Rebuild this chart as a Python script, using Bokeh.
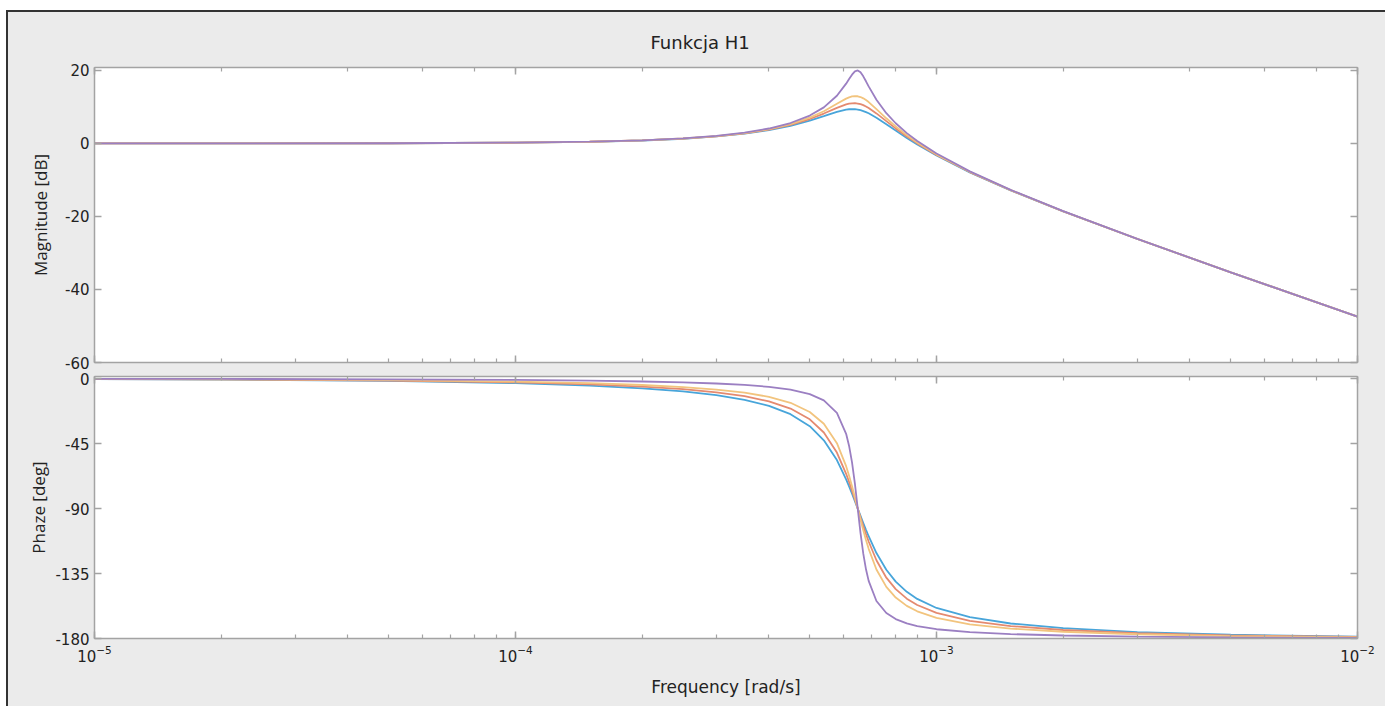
from bokeh.plotting import figure
from bokeh.models import LogAxis, LinearAxis, FixedTicker, LogTicker, CustomJSTickFormatter
from bokeh.layouts import column
from bokeh.embed import file_html
from bokeh.resources import INLINE

# ---- data ----
freq = [1e-5, 2e-5, 5e-5, 1e-4, 1.5e-4, 2e-4, 2.5e-4, 3e-4, 3.5e-4, 4e-4, 4.5e-4,
        5e-4, 5.4e-4, 5.8e-4, 6.1e-4, 6.2e-4, 6.3e-4, 6.4e-4, 6.5e-4, 6.6e-4, 6.7e-4,
        6.8e-4, 6.9e-4, 7.2e-4, 7.6e-4, 8e-4, 8.5e-4, 9e-4, 1e-3, 1.2e-3, 1.5e-3,
        2e-3, 3e-3, 5e-3, 1e-2]

mag_blue = [0.0, 0.01, 0.05, 0.2, 0.45, 0.81, 1.29, 1.91, 2.69, 3.66, 4.84, 6.26, 7.50, 8.67,
            9.27, 9.36, 9.40, 9.37, 9.27, 9.10, 8.87, 8.59, 8.26, 7.06, 5.28, 3.52, 1.51, -0.29,
            -3.32, -7.93, -12.87, -18.62, -26.18, -35.30, -47.45]
mag_orange = [0.0, 0.01, 0.05, 0.2, 0.46, 0.82, 1.32, 1.96, 2.78, 3.80, 5.09, 6.69, 8.19, 9.76,
              10.69, 10.89, 11.00, 11.02, 10.93, 10.75, 10.48, 10.12, 9.71, 8.23, 6.11, 4.12,
              1.92, 0.02, -3.14, -7.84, -12.82, -18.60, -26.17, -35.30, -47.45]
mag_yellow = [0.0, 0.01, 0.05, 0.2, 0.46, 0.84, 1.35, 2.01, 2.85, 3.92, 5.29, 7.06, 8.82, 10.85,
              12.28, 12.63, 12.87, 12.97, 12.92, 12.71, 12.35, 11.88, 11.33, 9.42, 6.89, 4.66,
              2.28, 0.27, -2.99, -7.76, -12.78, -18.58, -26.16, -35.30, -47.45]
mag_purple = [0.0, 0.01, 0.05, 0.21, 0.47, 0.86, 1.38, 2.07, 2.95, 4.09, 5.59, 7.63, 9.88, 13.06,
              16.38, 17.64, 18.84, 19.74, 20.00, 19.48, 18.38, 17.02, 15.63, 11.95, 8.28, 5.53,
              2.83, 0.65, -2.77, -7.66, -12.73, -18.56, -26.15, -35.30, -47.45]

ph_blue = [-0.30, -0.61, -1.53, -3.10, -4.79, -6.67, -8.83, -11.41, -14.62, -18.82, -24.58,
           -32.95, -42.69, -56.42, -69.72, -74.63, -79.70, -84.85, -90.0, -95.07, -100.0,
           -104.70, -109.16, -120.78, -132.39, -140.57, -147.64, -152.56, -158.83, -165.23,
           -169.60, -172.88, -175.53, -177.40, -178.71]
ph_orange = [-0.25, -0.50, -1.26, -2.56, -3.96, -5.51, -7.31, -9.46, -12.15, -15.71, -20.69,
             -28.15, -37.29, -51.19, -65.89, -71.59, -77.59, -83.77, -90.0, -96.14, -102.05,
             -107.63, -112.82, -125.81, -137.87, -145.82, -152.39, -156.79, -162.27, -167.72,
             -171.38, -174.11, -176.31, -177.85, -178.94]
ph_yellow = [-0.20, -0.40, -1.00, -2.04, -3.15, -4.39, -5.83, -7.55, -9.73, -12.62, -16.72,
             -23.07, -31.22, -44.70, -60.64, -67.30, -74.54, -82.19, -90.0, -97.70, -105.02,
             -111.77, -117.87, -132.20, -144.25, -151.62, -157.40, -161.16, -165.73, -170.17,
             -173.13, -175.31, -177.06, -178.29, -179.16]
ph_purple = [-0.09, -0.18, -0.44, -0.90, -1.40, -1.95, -2.59, -3.36, -4.34, -5.66, -7.57,
             -10.67, -15.01, -23.65, -38.19, -46.61, -57.99, -72.77, -90.0, -106.98, -121.23,
             -132.07, -140.08, -153.99, -162.33, -166.55, -169.57, -171.42, -173.58, -175.62,
             -176.95, -177.92, -178.70, -179.24, -179.63]

mag_ticks = [-60, -40, -20, 0, 20]
phase_ticks = [-180, -135, -90, -45, 0]
title_text = "Funkcja H1"
mag_label = "Magnitude [dB]"
phase_label = "Phaze [deg]"
freq_label = "Frequency [rad/s]"

# ---- styles ----
FONT_H = "DejaVu Sans"
FONT_V = "Liberation Sans Narrow, Open Sans"
BG = "#ebebeb"
AX = "#a3a3a3"
TXT = "#222222"
colors = ["#48a5da", "#e48a70", "#f2c47e", "#9b7fc2"]
W = 1377


def style_axis(ax, hide_labels=False):
    ax.axis_line_color = AX
    ax.axis_line_width = 1.5
    ax.major_tick_line_color = AX
    ax.minor_tick_line_color = AX
    ax.major_tick_line_width = 1.5
    ax.minor_tick_line_width = 1.2
    ax.major_tick_in = 7
    ax.major_tick_out = 0
    ax.minor_tick_in = 4
    ax.minor_tick_out = 0
    ax.major_label_text_font = FONT_H
    ax.major_label_text_font_size = "15px"
    ax.major_label_text_color = TXT
    ax.axis_label_text_font_style = "normal"
    ax.axis_label_text_color = TXT
    if hide_labels:
        ax.major_label_text_font_size = "1px"
        ax.major_label_text_alpha = 0
        ax.major_label_standoff = 0


def make_fig(height, yr, top_b, bot_b, title=None, **extra):
    kw = dict(width=W, height=height, x_axis_type="log", x_range=(1e-5, 1e-2), y_range=yr,
              output_backend="svg", toolbar_location=None,
              min_border_left=86, min_border_right=28, min_border_top=top_b,
              min_border_bottom=bot_b, background_fill_color="white",
              border_fill_color=BG, outline_line_color=AX)
    kw.update(extra)
    if title:
        kw["title"] = title
    p = figure(**kw)
    p.grid.visible = False
    return p


plain = CustomJSTickFormatter(code="return tick.toString();")

# ---- magnitude ----
p1 = make_fig(369, (-60, 20.8), 55, 19, title_text)
p1.title.align = "left"
p1.title.offset = 556
p1.title.text_font = FONT_H
p1.title.text_font_size = "18px"
p1.title.text_font_style = "normal"
p1.title.text_color = TXT
p1.title.standoff = 30
p1.yaxis.ticker = FixedTicker(ticks=mag_ticks)
p1.yaxis.formatter = plain
p1.yaxis.axis_label = mag_label
style_axis(p1.yaxis[0])
p1.yaxis.axis_label_text_font = FONT_V
p1.yaxis.axis_label_text_font_size = "17px"
p1.yaxis.axis_label_standoff = 10
style_axis(p1.xaxis[0], hide_labels=True)
r1 = LinearAxis(ticker=FixedTicker(ticks=mag_ticks))
style_axis(r1, hide_labels=True)
p1.add_layout(r1, "right")
a1 = LogAxis(ticker=LogTicker())
style_axis(a1, hide_labels=True)
p1.add_layout(a1, "above")
for ys, c in zip([mag_blue, mag_orange, mag_yellow, mag_purple], colors):
    p1.line(freq, ys, line_color=c, line_width=1.8)

# ---- phase ----
p2 = make_fig(337, (-180, 1.5), 7, 68, margin=(-12, 0, 0, 0), border_fill_alpha=0)
p2.yaxis.ticker = FixedTicker(ticks=phase_ticks)
p2.yaxis.formatter = plain
p2.yaxis.axis_label = phase_label
style_axis(p2.yaxis[0])
p2.yaxis.axis_label_text_font = FONT_V
p2.yaxis.axis_label_text_font_size = "17px"
p2.yaxis.axis_label_standoff = 2
p2.xaxis.axis_label = freq_label
style_axis(p2.xaxis[0])
p2.xaxis.axis_label_text_font = FONT_H
p2.xaxis.axis_label_text_font_size = "17px"
p2.xaxis.major_label_standoff = 6
p2.xaxis.axis_label_standoff = 12
r2 = LinearAxis(ticker=FixedTicker(ticks=phase_ticks))
style_axis(r2, hide_labels=True)
p2.add_layout(r2, "right")
a2 = LogAxis(ticker=LogTicker())
style_axis(a2, hide_labels=True)
p2.add_layout(a2, "above")
for ys, c in zip([ph_blue, ph_orange, ph_yellow, ph_purple], colors):
    p2.line(freq, ys, line_color=c, line_width=1.8)

layout = column(p1, p2, spacing=0, margin=(10, 0, 0, 6),
                styles={"border-top": "2px solid #333", "border-left": "2px solid #333",
                        "background-color": BG})

open("out.html", "w").write(file_html(layout, INLINE))
